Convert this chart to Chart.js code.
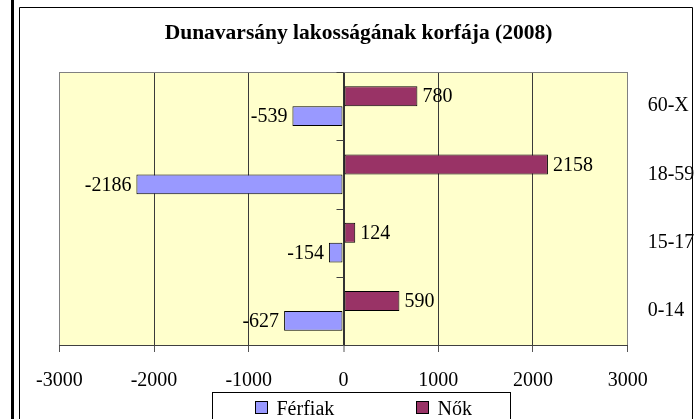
<!DOCTYPE html>
<html lang="hu">
<head>
  <meta charset="UTF-8">
  <title>Dunavarsány lakosságának korfája (2008)</title>
  <script src="https://cdn.jsdelivr.net/npm/chart.js"></script>
  <style>
    html, body { margin: 0; padding: 0; background: #fff; }
    #korfa { display: block; }
  </style>
</head>
<body>
  <canvas id="korfa" width="700" height="419"></canvas>

  <script>
    // korcsoportok fentről lefelé
    const ageGroups = ['60-X', '18-59', '15-17', '0-14'];
    const womenValues = [780, 2158, 124, 590];
    const menValues = [-539, -2186, -154, -627];
    const xTickValues = [-3000, -2000, -1000, 0, 1000, 2000, 3000];

    const chartTitle = 'Dunavarsány lakosságának korfája (2008)';
    const serif = "'Liberation Serif', 'Times New Roman', serif";

    // keret, rajzterület háttere
    const framePlugin = {
      id: 'frame',
      beforeDraw(chart) {
        const ctx = chart.ctx;
        const a = chart.chartArea;
        ctx.save();
        ctx.fillStyle = '#fff';
        ctx.fillRect(0, 0, chart.width, chart.height);
        ctx.fillStyle = '#000';
        ctx.fillRect(11, 0, 3, chart.height);
        ctx.strokeStyle = '#000';
        ctx.lineWidth = 1;
        ctx.beginPath();
        ctx.moveTo(19.5, chart.height);
        ctx.lineTo(19.5, 7.5);
        ctx.lineTo(692.5, 7.5);
        ctx.lineTo(692.5, chart.height);
        ctx.stroke();
        ctx.fillStyle = '#FFFFCC';
        ctx.fillRect(a.left, a.top, a.right - a.left, a.bottom - a.top);

        ctx.fillStyle = '#000';
        ctx.font = 'bold 21.5px ' + serif;
        ctx.textAlign = 'center';
        ctx.textBaseline = 'alphabetic';
        ctx.fillText(chartTitle, 358.5, 39);
        ctx.restore();
      },
      beforeDatasetsDraw(chart) {
        const ctx = chart.ctx;
        const a = chart.chartArea;
        const x = chart.scales.x;
        const y = chart.scales.y;
        ctx.save();
        ctx.strokeStyle = '#808080';
        ctx.lineWidth = 1;
        ctx.beginPath();
        ctx.moveTo(a.left, a.top + 0.5);
        ctx.lineTo(a.right, a.top + 0.5);
        ctx.stroke();
        // kategóriatengely osztásai a nullvonalon
        const x0 = x.getPixelForValue(0);
        ctx.strokeStyle = '#404040';
        ctx.beginPath();
        for (let i = 0; i <= ageGroups.length; i++) {
          const py = Math.round(y.getPixelForValue(i - 0.5)) + 0.5;
          ctx.moveTo(x0 - 7, py);
          ctx.lineTo(x0, py);
        }
        ctx.stroke();
        ctx.restore();
      },
      afterDatasetsDraw(chart) {
        const ctx = chart.ctx;
        ctx.save();
        ctx.font = '20px ' + serif;
        ctx.fillStyle = '#000';
        ctx.textBaseline = 'middle';
        chart.data.datasets.forEach((ds, di) => {
          const meta = chart.getDatasetMeta(di);
          meta.data.forEach((bar, i) => {
            const v = ds.data[i];
            if (v >= 0) {
              ctx.textAlign = 'left';
              ctx.fillText(String(v), bar.x + 5, bar.y + 1);
            } else {
              ctx.textAlign = 'right';
              ctx.fillText(String(v), bar.x - 5, bar.y + 1);
            }
          });
        });
        ctx.restore();
      },
      afterDraw(chart) {
        // jelmagyarázat: Férfiak, Nők
        const ctx = chart.ctx;
        ctx.save();
        ctx.strokeStyle = '#000';
        ctx.lineWidth = 1;
        ctx.fillStyle = '#fff';
        ctx.fillRect(212.5, 392.5, 298, 40);
        ctx.strokeRect(212.5, 392.5, 298, 40);
        const entries = [chart.data.datasets[1], chart.data.datasets[0]];
        const boxX = [255.5, 416.5];
        ctx.font = '20px ' + serif;
        ctx.textBaseline = 'alphabetic';
        ctx.textAlign = 'left';
        entries.forEach((ds, i) => {
          ctx.fillStyle = ds.backgroundColor;
          ctx.fillRect(boxX[i], 401.5, 12, 12);
          ctx.strokeRect(boxX[i], 401.5, 12, 12);
          ctx.fillStyle = '#000';
          ctx.fillText(ds.label, boxX[i] + 21, 415);
        });
        ctx.restore();
      }
    };

    new Chart(document.getElementById('korfa'), {
      type: 'bar',
      data: {
        labels: ageGroups,
        datasets: [
          {
            label: 'Nők',
            data: womenValues,
            backgroundColor: '#993366',
            borderColor: '#000',
            borderWidth: 1,
            borderSkipped: false
          },
          {
            label: 'Férfiak',
            data: menValues,
            backgroundColor: '#9999FF',
            borderColor: '#000',
            borderWidth: 1,
            borderSkipped: false
          }
        ]
      },
      options: {
        indexAxis: 'y',
        responsive: false,
        animation: false,
        barPercentage: 1,
        categoryPercentage: 0.586,
        layout: { padding: { top: 72, left: 59.3, right: 0, bottom: 0 } },
        plugins: {
          legend: { display: false },
          title: { display: false },
          tooltip: { enabled: false }
        },
        scales: {
          x: {
            type: 'linear',
            min: -3000,
            max: 3000,
            afterBuildTicks: (s) => { s.ticks = xTickValues.map(v => ({ value: v })); },
            afterFit: (s) => { s.height = 74; },
            ticks: {
              font: { family: serif, size: 20 },
              color: '#000',
              padding: 17,
              callback: (v) => String(v)
            },
            grid: {
              color: (c) => {
                const v = c.tick ? c.tick.value : null;
                if (v === 0) return '#333333';
                if (v === -3000 || v === 3000) return '#808080';
                return '#3a3a3a';
              },
              lineWidth: (c) => (c.tick && c.tick.value === 0 ? 2 : 1),
              tickLength: 7,
              tickColor: '#555555',
              tickWidth: 1
            },
            border: { display: true, color: '#404040', width: 1 }
          },
          y: {
            position: 'right',
            afterFit: (s) => { s.width = 72.3; },
            ticks: {
              font: { family: serif, size: 20 },
              color: '#000',
              padding: 20
            },
            grid: { display: false, drawTicks: false },
            border: { display: false }
          }
        }
      },
      plugins: [framePlugin]
    });
  </script>
</body>
</html>
